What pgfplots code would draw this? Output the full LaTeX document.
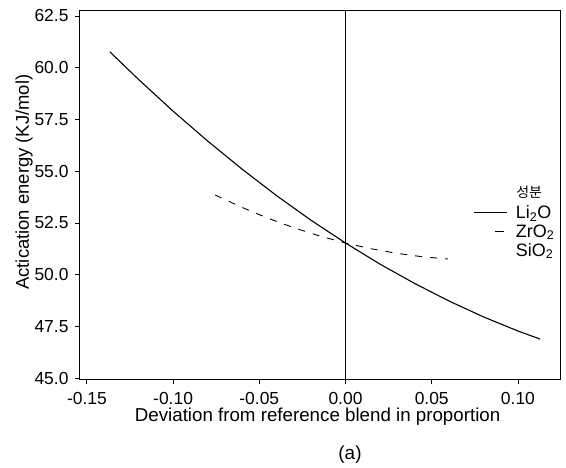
\documentclass[border=0pt]{standalone}
\usepackage{fontspec}
\setmainfont{Liberation Sans}
\newfontfamily\kr{Noto Sans CJK KR}
\usepackage{pgfplots}
\pgfplotsset{compat=1.18}
\usetikzlibrary{calc}

\begin{document}
\begin{tikzpicture}
\begin{axis}[
  name=ax,
  scale only axis,
  width=480bp, height=368bp,
  xmin=-0.154, xmax=0.1244,
  ymin=44.96, ymax=62.74,
  xtick={-0.15,-0.10,-0.05,0,0.05,0.10},
  ytick={45,47.5,50,52.5,55,57.5,60,62.5},
  /pgf/number format/assume math mode=true,
  xticklabel style={yshift=-5bp,/pgf/number format/.cd,fixed,fixed zerofill,precision=2},
  yticklabel style={xshift=-3bp,/pgf/number format/.cd,fixed,fixed zerofill,precision=1},
  scaled x ticks=false, scaled y ticks=false,
  tick label style={font=\fontsize{17.5}{20}\selectfont, text=black},
  tick align=outside, xtick pos=bottom, ytick pos=left,
  major tick length=5bp,
  tick style={black, line width=0.8bp},
  axis line style={black, line width=1bp},
  every axis x label/.style={at={(rel axis cs:0.495,0)}, anchor=center, yshift=-38bp},
  every axis y label/.style={at={(rel axis cs:0,0.535)}, xshift=-56bp, rotate=90, anchor=center},
  xlabel style={font=\fontsize{18.8}{22}\selectfont},
  ylabel style={font=\fontsize{18.5}{22}\selectfont},
  xlabel={Deviation from reference blend in proportion},
  ylabel={Actication energy (KJ/mol)},
  legend style={at={(rel axis cs:0.82,0.477)}, anchor=north west, draw=none, fill=none,
    font=\fontsize{18}{21}\selectfont, row sep=0.5bp, inner sep=0pt,
    cells={anchor=west},
    /tikz/every odd column/.style={column sep=6bp}},
  legend image code/.code={\draw[#1] (0bp,0bp) -- (33bp,0bp);},
  clip=false,
]
% reference line at zero
\addplot[black, line width=1bp, forget plot] coordinates {(0,44.96) (0,62.74)};

\addplot[black, line width=1.1bp] coordinates {
  (-0.1366,60.76) (-0.12,59.43) (-0.10,57.90) (-0.08,56.46) (-0.06,55.10)
  (-0.04,53.82) (-0.02,52.63) (0,51.53) (0.02,50.51) (0.04,49.58)
  (0.06,48.73) (0.08,47.96) (0.10,47.28) (0.1128,46.89)
};
\addlegendentry{Li\textsubscript{2}O}

\addplot[black, line width=0.9bp, dash pattern=on 7bp off 8bp, forget plot] coordinates {
  (-0.0756,53.85) (-0.06,53.25) (-0.045,52.73) (-0.03,52.27) (-0.015,51.87)
  (0,51.53) (0.015,51.25) (0.03,51.03) (0.045,50.86) (0.0593,50.76)
};
\addlegendimage{black, line width=0.9bp, dash pattern=on 0bp off 21bp on 9bp off 10bp}
\addlegendentry{ZrO\textsubscript{2}}
\addlegendimage{draw opacity=0}
\addlegendentry{SiO\textsubscript{2}}

\node[font=\kr\fontsize{14}{16}\selectfont, anchor=center] at (axis cs:0.1065,53.99) {성분};
\end{axis}
\node[font=\fontsize{19}{22}\selectfont] at ($(ax.south west)+(270bp,-76bp)$) {(a)};
\path ($(ax.south west)+(-80bp,-87bp)$) rectangle ($(ax.north east)+(6bp,11bp)$);
\end{tikzpicture}
\end{document}
